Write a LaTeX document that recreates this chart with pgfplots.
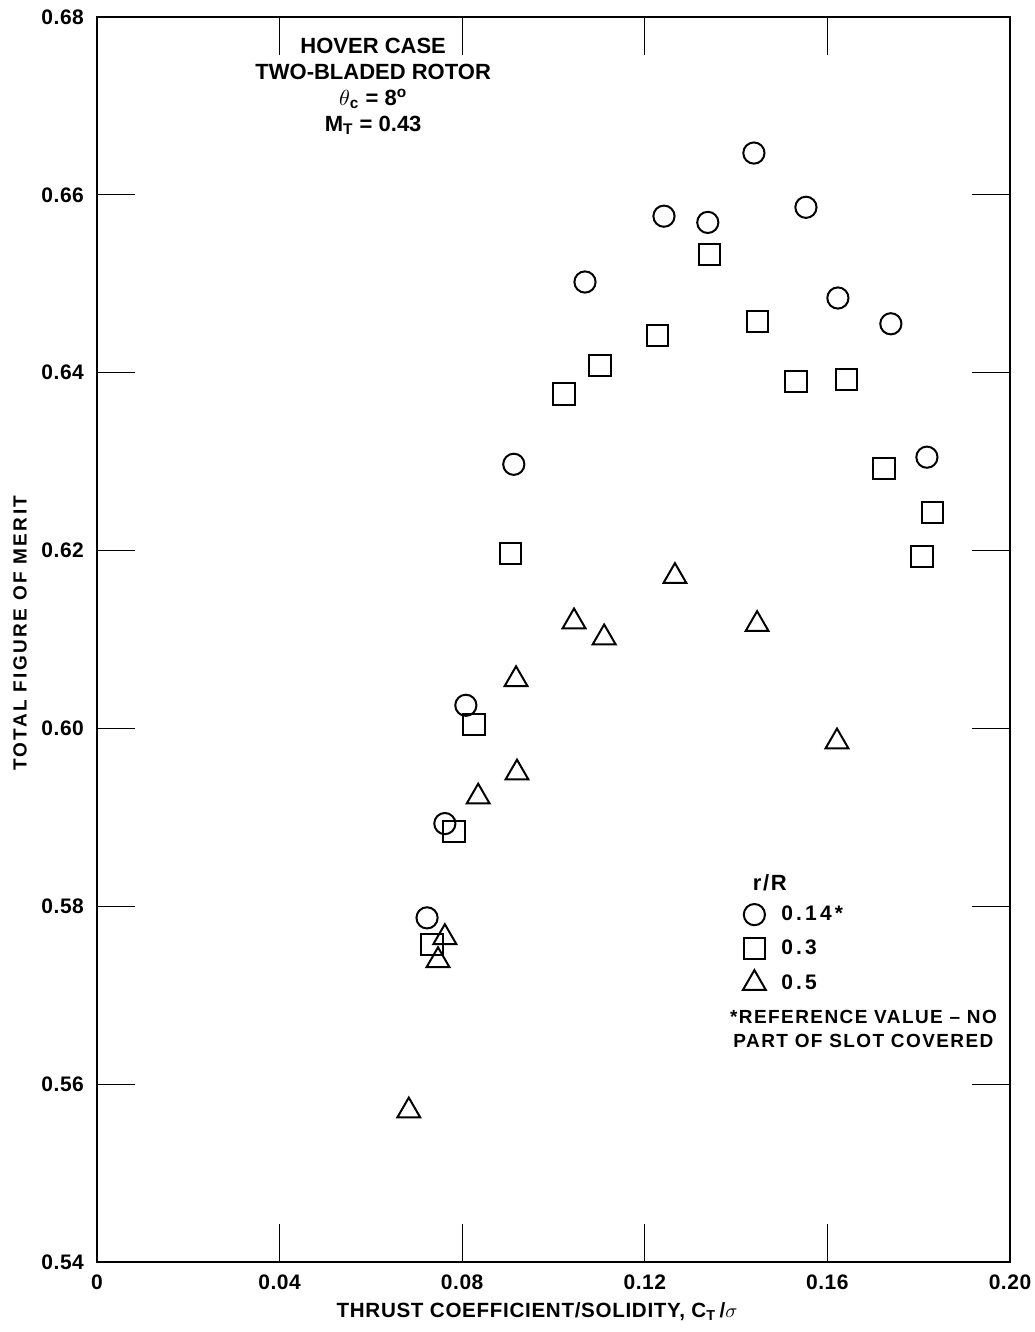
\documentclass[border=0pt]{standalone}
\usepackage{fontspec}
\setmainfont{Liberation Sans}
\newfontfamily\spA{Liberation Sans}[LetterSpace=2.5]
\newfontfamily\spX{Liberation Sans}[LetterSpace=3.3]
\newfontfamily\spB{Liberation Sans}[LetterSpace=7.5]
\newfontfamily\spC{Liberation Sans}[LetterSpace=12.5]
\newfontfamily\spD{Liberation Sans}[LetterSpace=15]
\usepackage{pgfplots}
\pgfplotsset{compat=1.18}

\pgfplotstableread{
x y
0.1439 0.6647
0.1242 0.6576
0.1338 0.6569
0.1553 0.6586
0.1069 0.6502
0.1623 0.6484
0.1739 0.6455
0.0913 0.6297
0.1818 0.6305
0.0808 0.6026
0.0762 0.5893
0.0723 0.5787
}\circdata

\pgfplotstableread{
x y
0.1341 0.6533
0.1446 0.6458
0.1227 0.6442
0.1102 0.6408
0.1023 0.6376
0.1531 0.6390
0.1641 0.6392
0.1724 0.6292
0.1831 0.6243
0.1807 0.6193
0.0905 0.6197
0.0826 0.6004
0.0782 0.5884
0.0734 0.5757
}\sqdata

\pgfplotstableread{
x y
0.1266 0.6171
0.1045 0.6120
0.1111 0.6102
0.1446 0.6117
0.0918 0.6055
0.1621 0.5985
0.0920 0.5950
0.0835 0.5923
0.0762 0.5765
0.0747 0.5739
0.0683 0.5570
}\tridata

\begin{document}
\begin{tikzpicture}
\begin{axis}[
  scale only axis,
  width=456.5pt, height=622.5pt,
  xmin=0, xmax=0.2, ymin=0.54, ymax=0.68,
  xtick={0,0.04,0.08,0.12,0.16,0.20},
  xticklabels={0,0.04,0.08,0.12,0.16,0.20},
  ytick={0.54,0.56,0.58,0.60,0.62,0.64,0.66,0.68},
  yticklabels={0.54,0.56,0.58,0.60,0.62,0.64,0.66,0.68},
  tick pos=both,
  tick align=inside,
  major tick length=19pt,
  axis line style={line width=0.6pt},
  tick style={line width=0.6pt, black},
  xticklabel style={font=\spA\bfseries\fontsize{10.5}{12}\selectfont, yshift=-3pt},
  yticklabel style={font=\spA\bfseries\fontsize{10.5}{12}\selectfont, xshift=-3pt},
  xlabel={THRUST COEFFICIENT/SOLIDITY, C\textsubscript{T}\,/$\sigma$},
  ylabel={TOTAL FIGURE OF MERIT},
  x label style={at={(axis description cs:0.482,-0.0402)}, anchor=center, font=\spX\bfseries\fontsize{10.3}{12}\selectfont},
  y label style={at={(axis description cs:-0.0843,0.505)}, anchor=center, font=\spC\bfseries\fontsize{9.5}{12}\selectfont},
  legend style={at={(axis cs:0.1401,0.5810)}, anchor=north west, draw=none, fill=none,
    font=\spD\bfseries\fontsize{10.5}{13}\selectfont, row sep=4.25pt},
  legend cell align=left,
  legend image code/.code={\draw[#1] plot coordinates {(0pt,0pt)}; \path[draw=none,fill=none] (0pt,0pt) -- (11.5pt,0pt);},
]
\addplot[only marks, mark=o, mark size=5.3pt, mark options={line width=1pt, draw=black, fill=none}] table {\circdata};
\addlegendentry{0.14*}
\addplot[only marks, mark=square, mark size=5.3pt, mark options={line width=1pt, draw=black, fill=none}] table {\sqdata};
\addlegendentry{0.3}
\addplot[only marks, mark=triangle, mark size=6.6pt, mark options={line width=1pt, draw=black, fill=none}] table {\tridata};
\addlegendentry{0.5}

\node[align=center, anchor=north, font=\bfseries\fontsize{11}{13}\selectfont]
  at (axis cs:0.0605,0.6784)
  {HOVER CASE\\TWO-BLADED ROTOR\\$\theta$\textsubscript{c} = 8\textsuperscript{o}\\M\textsubscript{T} = 0.43};
\node[font=\spB\bfseries\fontsize{11}{13}\selectfont] at (axis cs:0.1474,0.5827) {r/R};
\node[align=center, font=\spB\bfseries\fontsize{9.5}{12}\selectfont] at (axis cs:0.1679,0.5662)
  {*REFERENCE VALUE – NO\\PART OF SLOT COVERED};

\coordinate (SW) at (axis description cs:0,0);
\coordinate (NE) at (axis description cs:1,1);
\end{axis}
\pgfresetboundingbox
\path ([xshift=-48.5pt,yshift=-35pt]SW) rectangle ([xshift=12pt,yshift=8.5pt]NE);
\end{tikzpicture}
\end{document}
